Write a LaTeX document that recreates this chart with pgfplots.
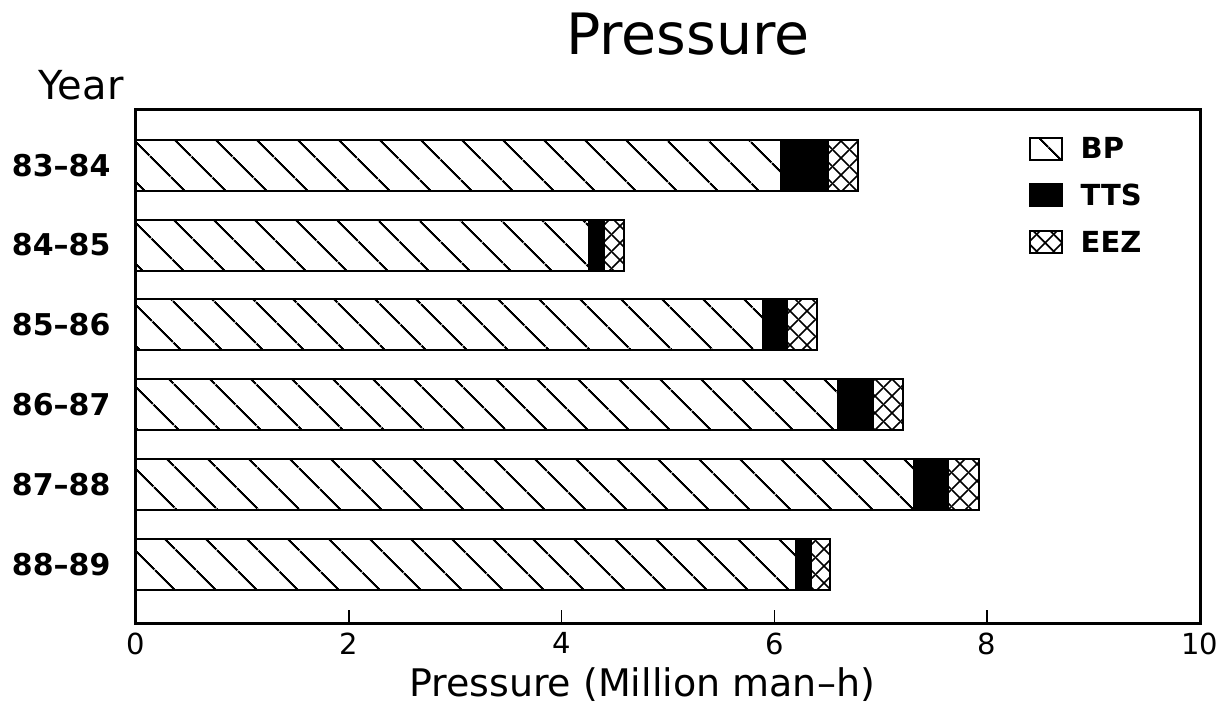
\documentclass[border=0pt]{standalone}
\usepackage{fontspec}
\setmainfont{DejaVu Sans}
\usepackage{pgfplots}
\pgfplotsset{compat=1.18}
\usetikzlibrary{patterns,patterns.meta}

\pgfdeclarepattern{
  name=bigcross,
  type=uncolored,
  bottom left={\pgfpoint{0pt}{0pt}},
  top right={\pgfpoint{17pt}{17pt}},
  tile size={\pgfpoint{17pt}{17pt}},
  code={
    \pgfsetlinewidth{1.7pt}
    \pgfpathmoveto{\pgfpoint{-1pt}{-1pt}}\pgfpathlineto{\pgfpoint{18pt}{18pt}}
    \pgfpathmoveto{\pgfpoint{-1pt}{18pt}}\pgfpathlineto{\pgfpoint{18pt}{-1pt}}
    \pgfusepath{stroke}
  }
}

\begin{document}
\begin{tikzpicture}
\path[use as bounding box] (0,0) rectangle (1232pt,710pt);
\begin{axis}[
  at={(136pt,87pt)}, anchor=south west,
  scale only axis, width=1064pt, height=513pt,
  xbar stacked, bar width=51pt,
  xmin=0, xmax=10, ymin=-0.73, ymax=5.69,
  xtick={0,2,4,6,8,10},
  ytick={0,1,2,3,4,5},
  yticklabels={88\textendash89,87\textendash88,86\textendash87,85\textendash86,84\textendash85,83\textendash84},
  tick align=inside,
  xtick pos=bottom,
  ytick style={draw=none},
  major tick length=13pt,
  xtick style={line width=1.5pt, black},
  axis line style={line width=3pt},
  /pgf/number format/assume math mode=true,
  xticklabel style={font=\fontsize{29}{34}\selectfont, yshift=-6pt},
  yticklabel style={font=\bfseries\fontsize{30}{36}\selectfont, xshift=-22pt},
  legend style={at={(0.836,0.955)}, anchor=north west, draw=none, fill=none,
    font=\bfseries\fontsize{29}{34}\selectfont, row sep=20pt},
  legend cell align=left,
  legend image code/.code={\draw[#1,line width=2pt] (0pt,-11pt) rectangle (32pt,11pt); \path (48pt,0pt);},
]
\addplot[draw=black, line width=2pt, pattern={Lines[angle=-45,distance=30pt,line width=2.2pt]}]
  coordinates {(6.20,0) (7.31,1) (6.60,2) (5.89,3) (4.26,4) (6.06,5)};
\addplot[draw=black, line width=2pt, fill=black]
  coordinates {(0.14,0) (0.32,1) (0.33,2) (0.23,3) (0.14,4) (0.44,5)};
\addplot[draw=black, line width=2pt, pattern=bigcross]
  coordinates {(0.18,0) (0.29,1) (0.28,2) (0.28,3) (0.19,4) (0.29,5)};
\legend{BP,TTS,EEZ}
\end{axis}
\node[anchor=base, font=\fontsize{57}{60}\selectfont] at (688pt,655pt) {Pressure};
\node[anchor=base east, font=\fontsize{40}{44}\selectfont] at (127pt,610pt) {Year};
\node[anchor=base, font=\fontsize{38}{42}\selectfont, inner sep=0pt] at (642pt,14pt) {Pressure (Million man\textendash h)};
\end{tikzpicture}
\end{document}
